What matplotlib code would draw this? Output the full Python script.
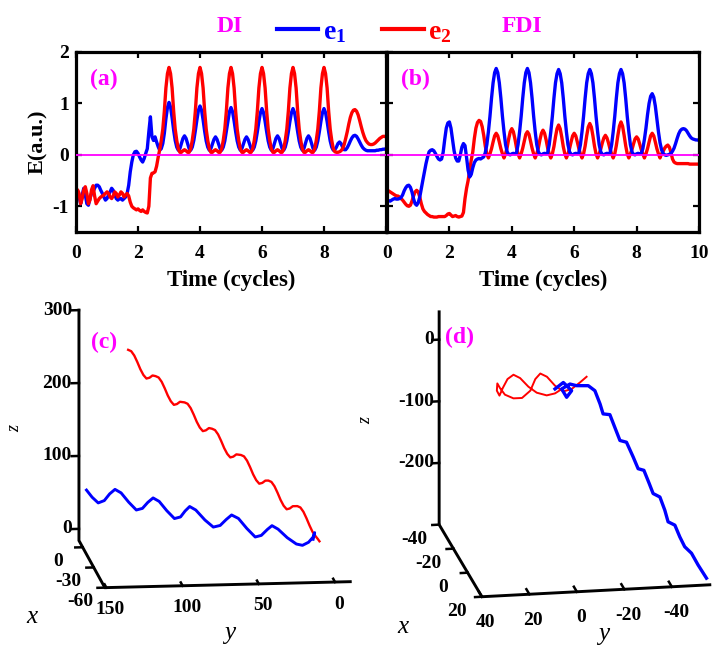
import numpy as np
import matplotlib
matplotlib.use("Agg")
import matplotlib.pyplot as plt
from matplotlib.lines import Line2D
from mpl_toolkits.mplot3d import proj3d

# ---------------- data ----------------
time_step = 0.05          # cycles between samples, t = 0 ... 10
time_ticks = [0, 2, 4, 6, 8, 10]
e_ticks = [-1, 0, 1, 2]

# panel (a) DI : field E (a.u.) of e1 (blue) and e2 (red)
a_e1 = [
    -0.82, -0.72, -0.82, -0.95, -0.78, -0.65, -0.78, -0.95, -0.98, -0.85, -0.75, -0.72, -0.65, -0.59, -0.59, -0.62, -0.69, -0.75, -0.82, -0.88,
    -0.85, -0.78, -0.72, -0.65, -0.69, -0.78, -0.85, -0.88, -0.85, -0.85, -0.88, -0.85, -0.82, -0.75, -0.59, -0.33, -0.14, 0.00, 0.06, 0.07,
    0.03, -0.04, -0.10, -0.14, -0.07, 0.03, 0.12, 0.45, 0.74, 0.35, 0.28, 0.35, 0.25, 0.16, 0.09, 0.12, 0.22, 0.42, 0.70, 0.92,
    1.02, 0.93, 0.72, 0.48, 0.28, 0.15, 0.09, 0.12, 0.22, 0.32, 0.37, 0.32, 0.22, 0.12, 0.09, 0.15, 0.28, 0.47, 0.68, 0.87,
    0.95, 0.87, 0.68, 0.46, 0.27, 0.15, 0.09, 0.12, 0.21, 0.30, 0.35, 0.30, 0.21, 0.12, 0.09, 0.15, 0.27, 0.46, 0.66, 0.84,
    0.92, 0.84, 0.66, 0.45, 0.27, 0.15, 0.09, 0.12, 0.21, 0.30, 0.35, 0.30, 0.21, 0.12, 0.09, 0.15, 0.27, 0.45, 0.65, 0.82,
    0.90, 0.82, 0.65, 0.45, 0.27, 0.15, 0.09, 0.12, 0.22, 0.32, 0.37, 0.32, 0.22, 0.12, 0.09, 0.15, 0.27, 0.45, 0.65, 0.82,
    0.90, 0.82, 0.65, 0.45, 0.27, 0.15, 0.09, 0.12, 0.22, 0.32, 0.37, 0.32, 0.22, 0.12, 0.09, 0.15, 0.27, 0.45, 0.65, 0.82,
    0.90, 0.82, 0.65, 0.45, 0.27, 0.15, 0.09, 0.10, 0.15, 0.22, 0.25, 0.22, 0.15, 0.10, 0.10, 0.14, 0.20, 0.27, 0.33, 0.37,
    0.38, 0.36, 0.31, 0.25, 0.19, 0.14, 0.11, 0.09, 0.08, 0.08, 0.08, 0.08, 0.08, 0.08, 0.09, 0.09, 0.10, 0.10, 0.11, 0.11,
    0.12]
a_e2 = [
    -0.85, -0.68, -0.75, -0.95, -0.85, -0.68, -0.62, -0.75, -0.95, -0.88, -0.68, -0.60, -0.80, -0.95, -0.90, -0.85, -0.82, -0.80, -0.78, -0.75,
    -0.72, -0.75, -0.82, -0.85, -0.80, -0.72, -0.75, -0.82, -0.78, -0.72, -0.75, -0.82, -0.78, -0.75, -0.80, -0.92, -1.00, -1.03, -1.05, -1.07,
    -1.05, -1.08, -1.10, -1.07, -1.10, -1.12, -1.13, -1.00, -0.45, -0.36, -0.35, -0.33, -0.22, -0.05, 0.10, 0.28, 0.50, 0.85, 1.30, 1.58,
    1.70, 1.58, 1.30, 0.85, 0.50, 0.28, 0.12, 0.05, 0.05, 0.08, 0.10, 0.08, 0.05, 0.05, 0.12, 0.28, 0.50, 0.85, 1.30, 1.58,
    1.70, 1.58, 1.30, 0.85, 0.50, 0.28, 0.12, 0.05, 0.05, 0.08, 0.10, 0.08, 0.05, 0.05, 0.12, 0.28, 0.50, 0.85, 1.30, 1.58,
    1.70, 1.58, 1.30, 0.85, 0.50, 0.28, 0.12, 0.05, 0.05, 0.08, 0.10, 0.08, 0.05, 0.05, 0.12, 0.28, 0.50, 0.85, 1.30, 1.58,
    1.70, 1.58, 1.30, 0.85, 0.50, 0.28, 0.12, 0.05, 0.05, 0.08, 0.10, 0.08, 0.05, 0.05, 0.12, 0.28, 0.50, 0.85, 1.30, 1.58,
    1.70, 1.58, 1.30, 0.85, 0.50, 0.28, 0.12, 0.05, 0.05, 0.08, 0.10, 0.08, 0.05, 0.05, 0.12, 0.28, 0.50, 0.85, 1.30, 1.58,
    1.70, 1.58, 1.30, 0.85, 0.50, 0.28, 0.12, 0.06, 0.05, 0.05, 0.06, 0.08, 0.12, 0.20, 0.32, 0.45, 0.60, 0.73, 0.82, 0.87,
    0.88, 0.85, 0.78, 0.67, 0.55, 0.44, 0.35, 0.28, 0.24, 0.21, 0.20, 0.20, 0.21, 0.23, 0.26, 0.29, 0.32, 0.34, 0.36, 0.36,
    0.35]

# panel (b) FDI
b_e1 = [
    -0.88, -0.89, -0.90, -0.88, -0.86, -0.85, -0.86, -0.86, -0.85, -0.83, -0.78, -0.70, -0.64, -0.60, -0.59, -0.63, -0.72, -0.85, -0.95, -0.98,
    -0.93, -0.82, -0.65, -0.49, -0.33, -0.17, -0.04, 0.06, 0.09, 0.10, 0.08, 0.03, -0.03, -0.08, -0.10, -0.08, 0.05, 0.30, 0.52, 0.62,
    0.64, 0.52, 0.30, 0.08, -0.06, -0.12, -0.12, 0.00, 0.15, 0.22, 0.18, -0.05, -0.30, -0.43, -0.38, -0.25, -0.15, -0.10, -0.08, -0.07,
    -0.08, -0.06, -0.04, 0.04, 0.20, 0.45, 0.75, 1.10, 1.40, 1.60, 1.68, 1.60, 1.40, 1.10, 0.75, 0.45, 0.20, 0.06, 0.01, 0.00,
    0.02, 0.03, 0.02, 0.04, 0.20, 0.45, 0.75, 1.10, 1.40, 1.60, 1.68, 1.60, 1.40, 1.10, 0.75, 0.45, 0.20, 0.06, 0.01, 0.00,
    0.02, 0.03, 0.02, 0.04, 0.20, 0.45, 0.75, 1.10, 1.40, 1.58, 1.66, 1.58, 1.40, 1.10, 0.75, 0.45, 0.20, 0.06, 0.01, 0.00,
    0.02, 0.03, 0.02, 0.04, 0.20, 0.45, 0.75, 1.10, 1.40, 1.58, 1.66, 1.58, 1.40, 1.10, 0.75, 0.45, 0.20, 0.06, 0.01, 0.00,
    0.02, 0.03, 0.02, 0.04, 0.20, 0.45, 0.75, 1.10, 1.40, 1.58, 1.66, 1.58, 1.40, 1.10, 0.75, 0.45, 0.20, 0.06, 0.01, 0.00,
    0.02, 0.03, 0.02, 0.03, 0.12, 0.30, 0.52, 0.78, 1.00, 1.14, 1.19, 1.12, 0.95, 0.70, 0.45, 0.24, 0.10, 0.03, 0.00, -0.01,
    0.00, 0.01, 0.03, 0.07, 0.13, 0.22, 0.32, 0.41, 0.47, 0.50, 0.51, 0.50, 0.47, 0.42, 0.37, 0.33, 0.31, 0.30, 0.29, 0.29,
    0.28]
b_e2 = [
    -0.72, -0.70, -0.72, -0.74, -0.76, -0.78, -0.80, -0.80, -0.82, -0.85, -0.88, -0.92, -0.96, -0.99, -1.00, -0.98, -0.90, -0.80, -0.72, -0.69,
    -0.72, -0.82, -0.95, -1.05, -1.10, -1.13, -1.16, -1.18, -1.20, -1.20, -1.21, -1.21, -1.21, -1.20, -1.20, -1.20, -1.20, -1.20, -1.18, -1.15,
    -1.14, -1.17, -1.20, -1.19, -1.18, -1.20, -1.21, -1.20, -1.19, -1.12, -0.85, -0.65, -0.50, -0.30, -0.10, 0.06, 0.32, 0.52, 0.63, 0.67,
    0.65, 0.55, 0.38, 0.17, 0.02, -0.06, 0.02, 0.12, 0.25, 0.37, 0.42, 0.37, 0.25, 0.12, 0.02, -0.06, 0.02, 0.14, 0.31, 0.45,
    0.51, 0.45, 0.31, 0.14, 0.02, -0.06, 0.02, 0.13, 0.27, 0.40, 0.45, 0.40, 0.27, 0.13, 0.02, -0.06, 0.02, 0.13, 0.29, 0.42,
    0.48, 0.42, 0.29, 0.13, 0.02, -0.06, 0.02, 0.16, 0.35, 0.51, 0.58, 0.51, 0.35, 0.16, 0.02, -0.06, 0.02, 0.12, 0.25, 0.37,
    0.42, 0.37, 0.25, 0.12, 0.02, -0.06, 0.02, 0.17, 0.37, 0.54, 0.61, 0.54, 0.37, 0.17, 0.02, -0.06, 0.02, 0.11, 0.23, 0.33,
    0.38, 0.33, 0.23, 0.11, 0.02, -0.06, 0.02, 0.18, 0.38, 0.56, 0.64, 0.56, 0.38, 0.18, 0.02, -0.06, 0.02, 0.10, 0.21, 0.31,
    0.35, 0.31, 0.21, 0.10, 0.02, -0.06, 0.02, 0.12, 0.25, 0.37, 0.42, 0.37, 0.25, 0.12, 0.02, -0.06, 0.02, 0.07, 0.13, 0.17,
    0.19, 0.15, 0.05, -0.08, -0.14, -0.16, -0.17, -0.17, -0.17, -0.17, -0.17, -0.17, -0.17, -0.17, -0.18, -0.18, -0.18, -0.18, -0.18, -0.18,
    -0.18]

# panel (c) DI trajectories (x, y, z)
c_e2_x = -20.0
c_e2_y = [126, 124, 122, 120, 118, 116, 114, 112, 110,
          108, 106, 104, 102, 100, 98, 96, 94, 92,
          89, 87, 85, 83, 81, 79, 77, 75, 73,
          71, 69, 67, 65, 63, 61, 59, 57, 55,
          52, 50, 48, 46, 44, 42, 40, 38, 36,
          34, 32, 30, 28, 26, 24, 22, 20, 18,
          15, 13, 11, 9, 7, 5, 3, 1.5, 0.5]
c_e2_z = [272, 270, 264, 255, 245, 237, 232, 233, 236,
          235, 233, 227, 218, 208, 200, 195, 196, 199,
          198, 196, 190, 181, 171, 163, 158, 159, 162,
          161, 159, 153, 144, 134, 126, 121, 122, 125,
          124, 122, 116, 107, 97, 89, 84, 85, 88,
          88, 86, 80, 71, 61, 53, 48, 49, 52,
          52, 50, 44, 35, 25, 16, 10, 6, 3]
c_e1_x = -5.0
c_e1_y = [149.7, 146, 142, 138, 134.5, 131, 127, 122, 117, 113, 109.5, 106, 102, 97, 92, 88, 85, 82, 78,
          72, 66.5, 62, 58, 54.5, 50, 44.5, 39, 35, 31, 28, 24, 18, 12, 8, 4, 1, 0, 1]
c_e1_z = [67, 57, 49, 52, 61, 67, 62, 49, 38, 40, 48, 54, 49, 36, 25, 27, 35, 41, 36,
          22, 12, 14, 22, 28, 23, 9, -3, -1, 7, 12, 7, -5, -14, -16, -12, -5, 1, -8]
c_xlim, c_ylim, c_zlim = (-60, 10), (-10, 151), (-16, 300)
c_xticks, c_yticks, c_zticks = [0, -30, -60], [150, 100, 50, 0], [0, 100, 200, 300]

# panel (d) FDI trajectories
d_e1_x = [0, 0, 0, 0, 0, 0, 0, 0, 0, 0.9, 1.5, 2.7, 3.6, 4.5, 5.7, 6.8, 7.7, 8.8, 9.7,
          10.4, 11.6, 12.5, 13.1, 14.3, 15.2, 16.1, 17.3, 18.5, 20]
d_e1_y = [3.2, -0.3, -3.8, -1.7, 0.4, -3.1, -5.9, -10.8, -13.6, -15.5, -16.6, -19.1, -20.9, -22.8, -25.2,
          -27.7, -29.5, -31.6, -33.6, -35, -37.5, -39.3, -40.5, -43, -44.8, -46.6, -49.1, -51.5, -54.6]
d_e1_z = [-9.5, 0.3, -13.7, -24, -10, -2.8, -6, -7, -15.7, -35.8, -51, -50.4, -69.5, -89.5, -90.5,
          -112.9, -130.4, -131.3, -151.6, -166.5, -170.3, -190.3, -208.2, -211.8, -229.4, -244, -252.7, -269.8, -289]
d_e2_x = 0.0
d_e2_y = [-0.3, 3.2, 6.7, 10.9, 14.4, 17.9, 20.7, 23.2, 25.2, 26.6, 27.7, 27.5, 26.4, 24.3, 20.7, 17.1,
          13.6, 11.5, 9.4, 6.6, 3.2, -0.3, -3.8, -7.3, -10.1]
d_e2_z = [-8.7, -16.7, -19.2, -14, -3.6, 11.1, 17.1, 10.6, -3.5, -15.6, -7.3, 4.4, -3.2, -14.5, -21.2, -21.3,
          -10.2, 8.2, 16.8, 11, -4.2, -14.2, -11, -1.1, 7.6]
d_xlim, d_ylim, d_zlim = (20, -40), (-56, 40), (-300, 45)
d_xticks, d_yticks, d_zticks = [-40, -20, 0, 20], [40, 20, 0, -20, -40], [0, -100, -200]

# ---------------- style ----------------
BLUE, RED, MAG = '#0000ff', '#ff0000', '#ff00ff'
plt.rcParams.update({
    'font.family': ['Liberation Serif', 'DejaVu Serif'],
    'font.weight': 'bold',
    'axes.unicode_minus': False,
    'mathtext.fontset': 'custom',
    'mathtext.rm': 'Liberation Serif:bold',
    'mathtext.bf': 'Liberation Serif:bold',
    'mathtext.it': 'Liberation Serif:italic:bold',
})

W, H = 712, 649
fig = plt.figure(figsize=(W / 100, H / 100), dpi=100)


def rect_px(l, t, r, b):
    return [l / W, 1 - b / H, (r - l) / W, (b - t) / H]


t = np.round(np.arange(len(a_e1)) * time_step, 2)

# ---------------- top panels ----------------
ax_a = fig.add_axes(rect_px(76, 52, 386, 232))
ax_b = fig.add_axes(rect_px(387, 52, 699, 232))
ax_a.plot(t, a_e1, color=BLUE, lw=2.4, zorder=2)
ax_a.plot(t, a_e2, color=RED, lw=2.4, zorder=2.1)
ax_b.plot(t, b_e2, color=RED, lw=2.4, zorder=2)
ax_b.plot(t, b_e1, color=BLUE, lw=2.4, zorder=2.1)

for ax, lab in ((ax_a, '(a)'), (ax_b, '(b)')):
    ax.axhline(0, color=MAG, lw=1.3, zorder=3)
    ax.set_xlim(0, 10)
    ax.set_ylim(-1.5, 2)
    ax.set_xticks(time_ticks)
    ax.set_yticks(e_ticks)
    ax.tick_params(direction='in', top=True, right=True, length=4, width=1.6, labelsize=14)
    ax.tick_params(axis='x', pad=9)
    ax.tick_params(axis='y', pad=5)
    for sp in ax.spines.values():
        sp.set_linewidth(2.3)
    ax.set_xlabel('Time (cycles)', fontsize=16.5, fontweight='bold', labelpad=6)
    ax.text(0.09, 0.85, lab, transform=ax.transAxes, color=MAG, fontsize=17,
            fontweight='bold', ha='center', va='center')
ax_a.set_xticklabels(['0', '2', '4', '6', '8', ''])
ax_a.set_yticklabels([str(v) for v in e_ticks])
ax_b.set_yticklabels([])
ax_a.set_ylabel('E(a.u.)', fontsize=16, fontweight='bold', labelpad=3)

# legend row
handles = [Line2D([], [], color=BLUE, lw=3), Line2D([], [], color=RED, lw=3)]
leg = fig.legend(handles, [r'$\mathbf{e}_\mathbf{1}$', r'$\mathbf{e}_\mathbf{2}$'], loc='center',
                 bbox_to_anchor=(364 / W, 1 - 32 / H), ncol=2, frameon=False, fontsize=20,
                 handlelength=1.5, handletextpad=0.15, columnspacing=1.3, borderpad=0, borderaxespad=0)
for txt, c in zip(leg.get_texts(), [BLUE, RED]):
    txt.set_color(c)
fig.text(230 / W, 1 - 27 / H, 'DI', color=MAG, fontsize=17, ha='center', va='center', fontweight='bold')
fig.text(522 / W, 1 - 27 / H, 'FDI', color=MAG, fontsize=17, ha='center', va='center', fontweight='bold')


# ---------------- 3D panels ----------------
def to_disp(ax, xs, ys, zs):
    xs = np.atleast_1d(np.asarray(xs, float))
    ys = np.atleast_1d(np.asarray(ys, float))
    zs = np.atleast_1d(np.asarray(zs, float))
    px, py, _ = proj3d.proj_transform(xs, ys, zs, ax.get_proj())
    return ax.transData.transform(np.column_stack([px, py]))


def make3d(xl, yl, zl, elev, azim, aspect, lines, anchors_img, ticks):
    ax = fig.add_axes([0.1, 0.05, 300 / W, 300 / H], projection='3d', proj_type='ortho')
    for (xs, ys, zs, col, lw) in lines:
        ax.plot(xs, ys, zs, color=col, lw=lw)
    ax.set_xlim(*xl)
    ax.set_ylim(*yl)
    ax.set_zlim(*zl)
    ax.set_box_aspect(aspect)
    ax.view_init(elev=elev, azim=azim)
    ax.set_axis_off()
    ax.patch.set_visible(False)
    xf, xb = xl
    ylo, yhi = yl
    zlo, zhi = zl
    # axis lines: z (back-left), x (left edge, bottom), y (front, bottom)
    ax.plot([xb, xb, xf, xf], [yhi, yhi, yhi, ylo], [zhi, zlo, zlo, zlo], color='black', lw=2.1,
            solid_joinstyle='miter')
    dy = 0.03 * (yhi - ylo)
    dx = 0.07 * (xb - xf)
    xt, yt, zt = ticks
    for z in zt:
        ax.plot([xb, xb], [yhi, yhi + dy], [z, z], color='black', lw=1.8)
    for x in xt:
        ax.plot([x, x], [yhi, yhi + dy], [zlo, zlo], color='black', lw=1.8)
    for y in yt:
        ax.plot([xf, xf + dx], [y, y], [zlo, zlo], color='black', lw=1.8)
    # fit the projected box onto the reference geometry
    pts3d = [(xb, yhi, zhi), (xb, yhi, zlo), (xf, yhi, zlo), (xf, ylo, zlo)]
    D = np.array([[x, H - y] for x, y in anchors_img], float)
    for _ in range(3):
        fig.canvas.draw()
        Q = np.vstack([to_disp(ax, *p) for p in pts3d])
        pos = ax.get_position()
        s_old = pos.width * W
        c_old = np.array([(pos.x0 + pos.width / 2) * W, (pos.y0 + pos.height / 2) * H])
        qm, dm = Q.mean(0), D.mean(0)
        qc, dc = Q - qm, D - dm
        s = (qc * dc).sum() / (qc * qc).sum()
        c_new = dm - s * (qm - c_old)
        s_new = s * s_old
        ax.set_position([(c_new[0] - s_new / 2) / W, (c_new[1] - s_new / 2) / H, s_new / W, s_new / H])
    fig.canvas.draw()
    return ax


def tick_labels(ax, pts, texts, off, ha='center', va='center', size=14):
    P = np.vstack([to_disp(ax, *p) for p in pts])
    for (X, Y), s in zip(P, texts):
        fig.text((X + off[0]) / W, (Y - off[1]) / H, s, ha=ha, va=va, fontsize=size, fontweight='bold')


# (c)
ax_c = make3d(c_xlim, c_ylim, c_zlim, 12.15, 173.4, (0.912, 1.0, 0.954),
              [(np.full(len(c_e2_y), c_e2_x), c_e2_y, c_e2_z, RED, 1.7),
               (np.full(len(c_e1_y), c_e1_x), c_e1_y, c_e1_z, BLUE, 2.1)],
              [(79, 310), (79, 540), (105, 588), (350, 582)],
              (c_xticks, c_yticks, c_zticks))
xf, xb = c_xlim
tick_labels(ax_c, [(xb, c_ylim[1], z) for z in c_zticks], [str(v) for v in c_zticks], (-7, 0), ha='right')
tick_labels(ax_c, [(x, c_ylim[1], c_zlim[0]) for x in c_xticks], [str(v) for v in c_xticks], (-25, 14))
tick_labels(ax_c, [(xf, y, c_zlim[0]) for y in c_yticks], [str(v) for v in c_yticks], (4, 22))

# (d)
ax_d = make3d(d_xlim, d_ylim, d_zlim, 17.3, 170.0, (1.064, 1.0, 0.963),
              [(np.full(len(d_e2_y), d_e2_x), d_e2_y, d_e2_z, RED, 1.4),
               (d_e1_x, d_e1_y, d_e1_z, BLUE, 2.4)],
              [(439, 312), (439, 525), (482, 597), (710, 584)],
              (d_xticks, d_yticks, d_zticks))
xf, xb = d_xlim
tick_labels(ax_d, [(xb, d_ylim[1], z) for z in d_zticks], [str(v) for v in d_zticks], (-5, 0), ha='right')
tick_labels(ax_d, [(x, d_ylim[1], d_zlim[0]) for x in d_xticks], [str(v) for v in d_xticks], (-25, 15))
tick_labels(ax_d, [(xf, y, d_zlim[0]) for y in d_yticks], [str(v) for v in d_yticks], (4, 26))

# axis names and panel letters
for (x, y, s, rot, fs) in [(15, 428, 'z', 90, 13), (32, 617, 'x', 0, 18), (230, 633, 'y', 0, 18),
                           (366, 420, 'z', 90, 13), (403, 627, 'x', 0, 18), (604, 634, 'y', 0, 18)]:
    fig.text(x / W, 1 - y / H, s, rotation=rot, fontsize=fs, fontstyle='italic', fontweight='normal',
             ha='center', va='center')
fig.text(104 / W, 1 - 342 / H, '(c)', color=MAG, fontsize=17, fontweight='bold', ha='center', va='center')
fig.text(460 / W, 1 - 337 / H, '(d)', color=MAG, fontsize=17, fontweight='bold', ha='center', va='center')

fig.savefig('out.png', dpi=100)
